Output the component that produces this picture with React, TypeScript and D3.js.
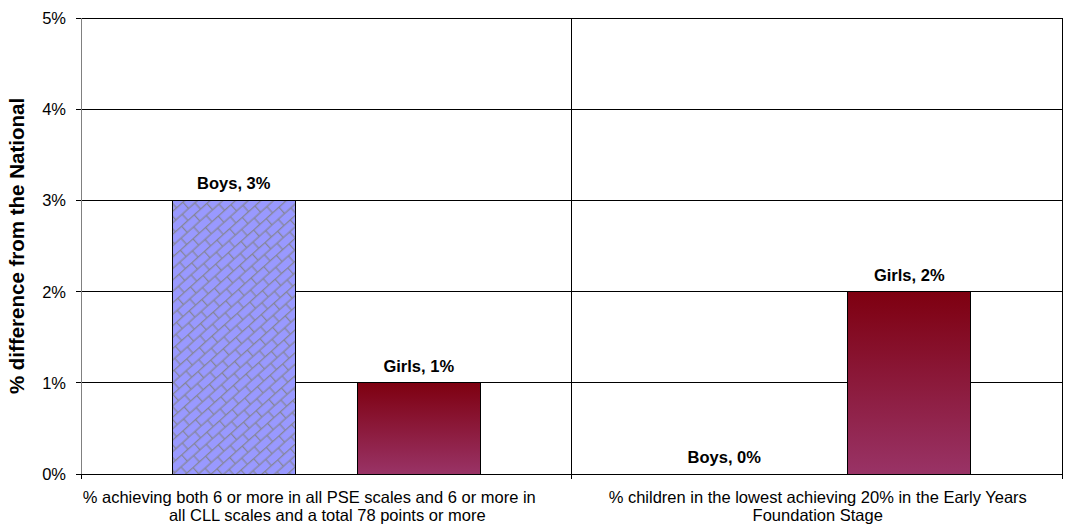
import React from "react";
import * as d3 from "d3";

const categories = [
  ["% achieving both 6 or more in all PSE scales and 6 or more in", "all CLL scales and a total 78 points or more"],
  ["% children in the lowest achieving 20% in the Early Years", "Foundation Stage"],
];
const seriesNames = ["Boys", "Girls"];
const boysValues = [3, 0];
const girlsValues = [1, 2];
const yTicks = [0, 1, 2, 3, 4, 5];

const W = 1065;
const H = 528;
const M = { left: 81, right: 3, top: 18, bottom: 54 };

export default function App() {
  const x0 = d3
    .scaleBand<number>()
    .domain(categories.map((_, i) => i))
    .range([M.left, W - M.right]);
  const groupPad = 91.25;
  const inner = d3
    .scaleBand<string>()
    .domain(seriesNames)
    .range([groupPad, x0.bandwidth() - groupPad])
    .paddingInner(0.335)
    .paddingOuter(0);
  const y = d3.scaleLinear().domain([0, 5]).range([H - M.bottom, M.top]);
  const font = "'Liberation Sans', Arial, sans-serif";
  const series = [boysValues, girlsValues];
  const fs = 16.5;

  return (
    <svg
      width={W}
      height={H}
      style={{ position: "absolute", left: 0, top: 0, background: "#fff" }}
      fontFamily={font}
    >
      <defs>
        <pattern
          id="brick"
          width="17"
          height="17"
          patternUnits="userSpaceOnUse"
          patternTransform="rotate(-42)"
        >
          <rect width="17" height="17" fill="#9999ff" />
          <path
            d="M0 0.6H17M0 9.1H17M0.6 0.6V9.1M9.1 9.1V17"
            stroke="#858595"
            strokeWidth="1.2"
            fill="none"
          />
        </pattern>
        <linearGradient id="girlsGrad" x1="0" y1="0" x2="0" y2="1">
          <stop offset="0" stopColor="#7e0010" />
          <stop offset="1" stopColor="#993366" />
        </linearGradient>
      </defs>

      {/* gridlines */}
      {yTicks.map((t) => (
        <line
          key={t}
          x1={M.left - 5}
          x2={W - M.right}
          y1={y(t)}
          y2={y(t)}
          stroke="#000"
          strokeWidth={1}
          shapeRendering="crispEdges"
        />
      ))}
      {/* plot frame */}
      <line x1={M.left} x2={M.left} y1={M.top} y2={H - M.bottom} stroke="#808080" shapeRendering="crispEdges" />
      <line x1={W - M.right} x2={W - M.right} y1={M.top} y2={H - M.bottom} stroke="#000" shapeRendering="crispEdges" />
      {categories.map((_, i) =>
        i === 0 ? null : (
          <line
            key={i}
            x1={x0(i)!}
            x2={x0(i)!}
            y1={M.top}
            y2={H - M.bottom + 5}
            stroke="#000"
            shapeRendering="crispEdges"
          />
        )
      )}
      <line x1={M.left} x2={M.left} y1={H - M.bottom} y2={H - M.bottom + 5} stroke="#000" shapeRendering="crispEdges" />
      <line x1={W - M.right} x2={W - M.right} y1={H - M.bottom} y2={H - M.bottom + 5} stroke="#000" shapeRendering="crispEdges" />

      {/* y tick labels */}
      {yTicks.map((t) => (
        <text key={t} x={M.left - 15} y={y(t) + 6} textAnchor="end" fontSize={fs} fill="#000">
          {t}%
        </text>
      ))}
      <text
        transform={`translate(24, ${(M.top + H - M.bottom) / 2}) rotate(-90)`}
        textAnchor="middle"
        fontSize={20.5}
        fontWeight="bold"
      >
        % difference from the National
      </text>

      {/* bars */}
      {categories.map((_, ci) =>
        seriesNames.map((name, si) => {
          const v = series[si][ci];
          const bx = x0(ci)! + inner(name)!;
          const bw = inner.bandwidth();
          const top = y(v);
          return (
            <g key={`${ci}-${si}`}>
              {v > 0 && (
                <rect
                  x={bx}
                  y={top}
                  width={bw}
                  height={y(0) - top}
                  fill={si === 0 ? "url(#brick)" : "url(#girlsGrad)"}
                  stroke="#000"
                  strokeWidth={1}
                  shapeRendering="crispEdges"
                />
              )}
              <text
                x={bx + bw / 2}
                y={(v > 0 ? top : y(0)) - 11}
                textAnchor="middle"
                fontSize={fs}
                fontWeight="bold"
              >
                {name}, {v}%
              </text>
            </g>
          );
        })
      )}

      {/* category labels; the first wrapped line of the left label sits a little left */}
      {categories.map((lines, ci) => (
        <text key={ci} textAnchor="middle" fontSize={fs} fill="#000">
          {lines.map((l, li) => (
            <tspan
              key={li}
              x={x0(ci)! + x0.bandwidth() / 2 + (ci === 0 && li === 0 ? -17 : 1)}
              y={H - M.bottom + 29 + li * 18}
            >
              {l}
            </tspan>
          ))}
        </text>
      ))}
    </svg>
  );
}
